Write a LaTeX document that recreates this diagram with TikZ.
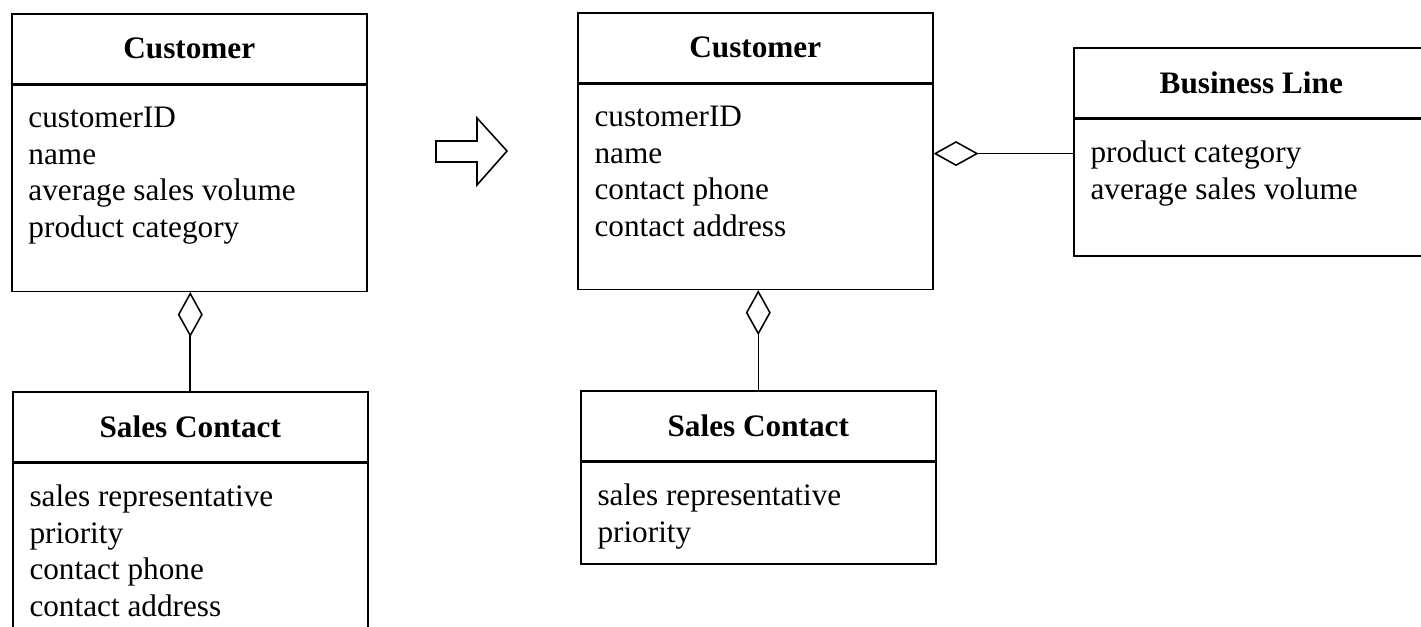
\documentclass[tikz,border=0pt]{standalone}
\usepackage{fontspec}
\setmainfont{Liberation Serif}
\usetikzlibrary{positioning,arrows.meta}

\begin{document}
\begin{tikzpicture}[x=0.32pt, y=-0.32pt,
    cls/.style={draw, line width=0.5pt, minimum width=113.6pt, minimum height=22.4pt, anchor=north west, font=\fontsize{10}{11.7}\selectfont\bfseries},
    body/.style={draw, line width=0.5pt, minimum width=113.6pt, anchor=north, inner sep=0pt},
    attr/.style={align=left, inner sep=0pt, font=\fontsize{10}{11.7}\selectfont},
    aggr/.style={line width=0.5pt, -{Diamond[open, length=14.4pt, width=8pt]}}]
  \useasboundingbox (0,0) rectangle (1421,626);
  \node[cls] (cust1) at (11,13) {Customer};
  \node[body, minimum height=65.9pt] (cust1b) at (cust1.south) {};
  \node[attr, below right=7pt and 5.4pt of cust1b.north west] (cust1a) {customerID\\name\\average sales volume\\product category};
  \node[cls] (sc1) at (12,391) {Sales Contact};
  \node[body, minimum height=60pt] (sc1b) at (sc1.south) {};
  \node[attr, below right=7pt and 5.4pt of sc1b.north west] (sc1a) {sales representative\\priority\\contact phone\\contact address};
  \draw[aggr] (sc1.north) -- (sc1.north |- cust1b.south);
  \draw[line width=0.5pt] (436,141) -- (477,141) -- (477,118) -- (507,151) -- (477,185) -- (477,162) -- (436,162) -- cycle;
  \node[cls] (cust2) at (577,12) {Customer};
  \node[body, minimum height=65.6pt] (cust2b) at (cust2.south) {};
  \node[attr, below right=7pt and 5.4pt of cust2b.north west] (cust2a) {customerID\\name\\contact phone\\contact address};
  \node[cls] (sc2) at (580,390) {Sales Contact};
  \node[body, minimum height=32.6pt] (sc2b) at (sc2.south) {};
  \node[attr, below right=7pt and 5.4pt of sc2b.north west] (sc2a) {sales representative\\priority};
  \draw[aggr] (sc2.north) -- (sc2.north |- cust2b.south);
  \node[cls] (bl) at (1073,47) {Business Line};
  \node[body, minimum height=43.8pt] (blb) at (bl.south) {};
  \node[attr, below right=7pt and 5.4pt of blb.north west] (bla) {product category\\average sales volume};
  \coordinate (bllink) at ([yshift=-11.2pt]blb.north west);
  \draw[aggr] (bllink) -- (bllink -| cust2b.east);
\end{tikzpicture}
\end{document}
